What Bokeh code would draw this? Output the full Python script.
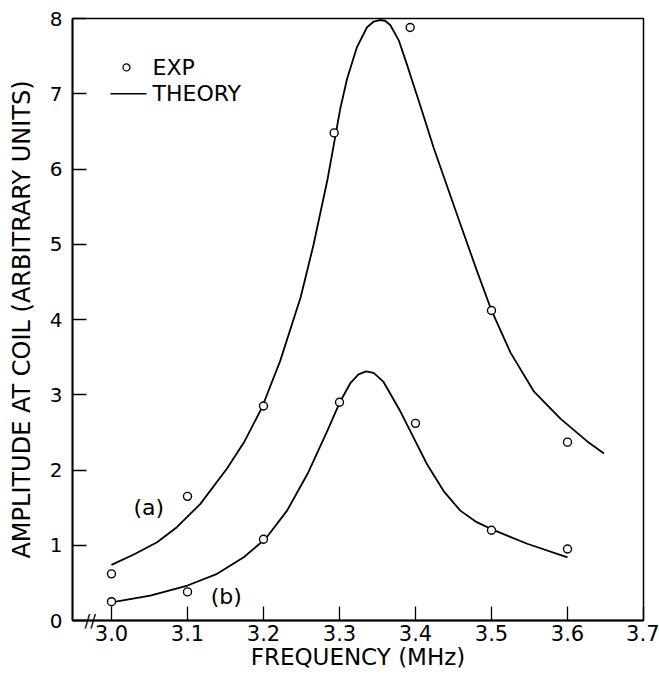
from bokeh.plotting import figure
from bokeh.models import FixedTicker, Label
from bokeh.embed import file_html
from bokeh.resources import INLINE
from bokeh.core.properties import value

# ---- data ----
x_ticks = [3.0, 3.1, 3.2, 3.3, 3.4, 3.5, 3.6, 3.7]
y_ticks = [0, 1, 2, 3, 4, 5, 6, 7, 8]

exp_a_freq = [3.0, 3.1, 3.2, 3.293, 3.393, 3.5, 3.6]
exp_a_amp = [0.62, 1.65, 2.85, 6.48, 7.88, 4.12, 2.37]

exp_b_freq = [3.0, 3.1, 3.2, 3.3, 3.4, 3.5, 3.6]
exp_b_amp = [0.25, 0.38, 1.08, 2.90, 2.62, 1.20, 0.95]

theory_a_freq = [3.000, 3.030, 3.060, 3.086, 3.117, 3.152, 3.175, 3.198,
                 3.222, 3.249, 3.266, 3.284, 3.293, 3.301, 3.310, 3.323,
                 3.336, 3.345, 3.353, 3.360, 3.367, 3.378, 3.389, 3.398,
                 3.407, 3.424, 3.444, 3.459, 3.480, 3.500, 3.525, 3.556,
                 3.591, 3.626, 3.648]
theory_a_amp = [0.74, 0.88, 1.04, 1.24, 1.55, 2.02, 2.38, 2.83,
                3.45, 4.30, 5.00, 5.85, 6.35, 6.80, 7.20, 7.62,
                7.88, 7.96, 7.98, 7.97, 7.91, 7.71, 7.38, 7.10,
                6.82, 6.28, 5.70, 5.27, 4.67, 4.12, 3.56, 3.04,
                2.68, 2.38, 2.22]

theory_b_freq = [3.000, 3.051, 3.100, 3.139, 3.174, 3.203, 3.231, 3.258,
                 3.284, 3.300, 3.314, 3.325, 3.335, 3.345, 3.358, 3.380,
                 3.398, 3.415, 3.437, 3.459, 3.480, 3.503, 3.547, 3.600]
theory_b_amp = [0.24, 0.33, 0.465, 0.62, 0.84, 1.09, 1.46, 1.95,
                2.52, 2.89, 3.15, 3.27, 3.31, 3.29, 3.17, 2.78,
                2.42, 2.08, 1.72, 1.46, 1.31, 1.20, 1.02, 0.84]

FONT = "DejaVu Sans"

p = figure(frame_width=571, frame_height=602,
           min_border_left=72, min_border_right=16,
           min_border_top=18, min_border_bottom=57,
           x_range=(2.9487, 3.7), y_range=(0, 8),
           output_backend="svg", toolbar_location=None)

p.background_fill_color = "white"
p.border_fill_color = "white"
p.outline_line_color = "black"
p.outline_line_width = 1.5
p.xgrid.visible = False
p.ygrid.visible = False

for ax in (p.xaxis[0], p.yaxis[0]):
    ax.axis_line_color = "black"
    ax.axis_line_width = 1.8
    ax.major_tick_in = 14
    ax.major_tick_out = 0
    ax.major_tick_line_color = "black"
    ax.major_tick_line_width = 1.3
    ax.minor_tick_line_color = None
    ax.major_label_text_font = FONT
    ax.major_label_text_color = "black"
    ax.axis_label_text_font = FONT
    ax.axis_label_text_font_style = "normal"
    ax.axis_label_text_color = "black"

p.xaxis.ticker = FixedTicker(ticks=x_ticks)
p.xaxis.major_label_overrides = {t: f"{t:.1f}" for t in x_ticks}
p.xaxis.major_label_text_font_size = "21px"
p.xaxis.major_label_standoff = 4
p.xaxis.axis_label = "FREQUENCY (MHz)"
p.xaxis.axis_label_text_font_size = "23px"
p.xaxis.axis_label_standoff = 0

p.yaxis.ticker = FixedTicker(ticks=y_ticks)
p.yaxis.major_label_text_font_size = "20px"
p.yaxis.major_label_standoff = 10
p.yaxis.axis_label = "AMPLITUDE AT COIL (ARBITRARY UNITS)"
p.yaxis.axis_label_text_font_size = "24px"
p.yaxis.axis_label_standoff = 11

# theory curves
p.line(theory_a_freq, theory_a_amp, line_color="black", line_width=1.8,
       line_join="round")
p.line(theory_b_freq, theory_b_amp, line_color="black", line_width=1.8,
       line_join="round")

# experimental points
p.scatter(exp_a_freq, exp_a_amp, marker="circle", size=8,
          fill_color="white", line_color="black", line_width=1.4)
p.scatter(exp_b_freq, exp_b_amp, marker="circle", size=8,
          fill_color="white", line_color="black", line_width=1.4)

# axis break mark (crosses the x axis line)
p.text(x=[2.972], y=[0], text=["//"], text_font=value(FONT),
       text_font_size="17px", text_align="center", text_baseline="middle",
       text_color="black", level="overlay")

# legend (hand-drawn like the original)
p.scatter(x=[3.0197], y=[7.35], marker="circle", size=7,
          fill_color="white", line_color="black", line_width=1.3)
p.segment(x0=[2.9987], y0=[7.0], x1=[3.046], y1=[7.0], line_color="black", line_width=1.6)
p.add_layout(Label(x=3.054, y=7.35, text="EXP", text_font=FONT, text_font_size="22px",
                   text_baseline="middle", text_color="black"))
p.add_layout(Label(x=3.054, y=7.0, text="THEORY", text_font=FONT, text_font_size="22px",
                   text_baseline="middle", text_color="black"))

# curve labels
p.add_layout(Label(x=3.049, y=1.50, text="(a)", text_font=FONT, text_font_size="22px",
                   text_align="center", text_baseline="middle", text_color="black"))
p.add_layout(Label(x=3.151, y=0.32, text="(b)", text_font=FONT, text_font_size="22px",
                   text_align="center", text_baseline="middle", text_color="black"))

open("out.html", "w").write(file_html(p, INLINE))
